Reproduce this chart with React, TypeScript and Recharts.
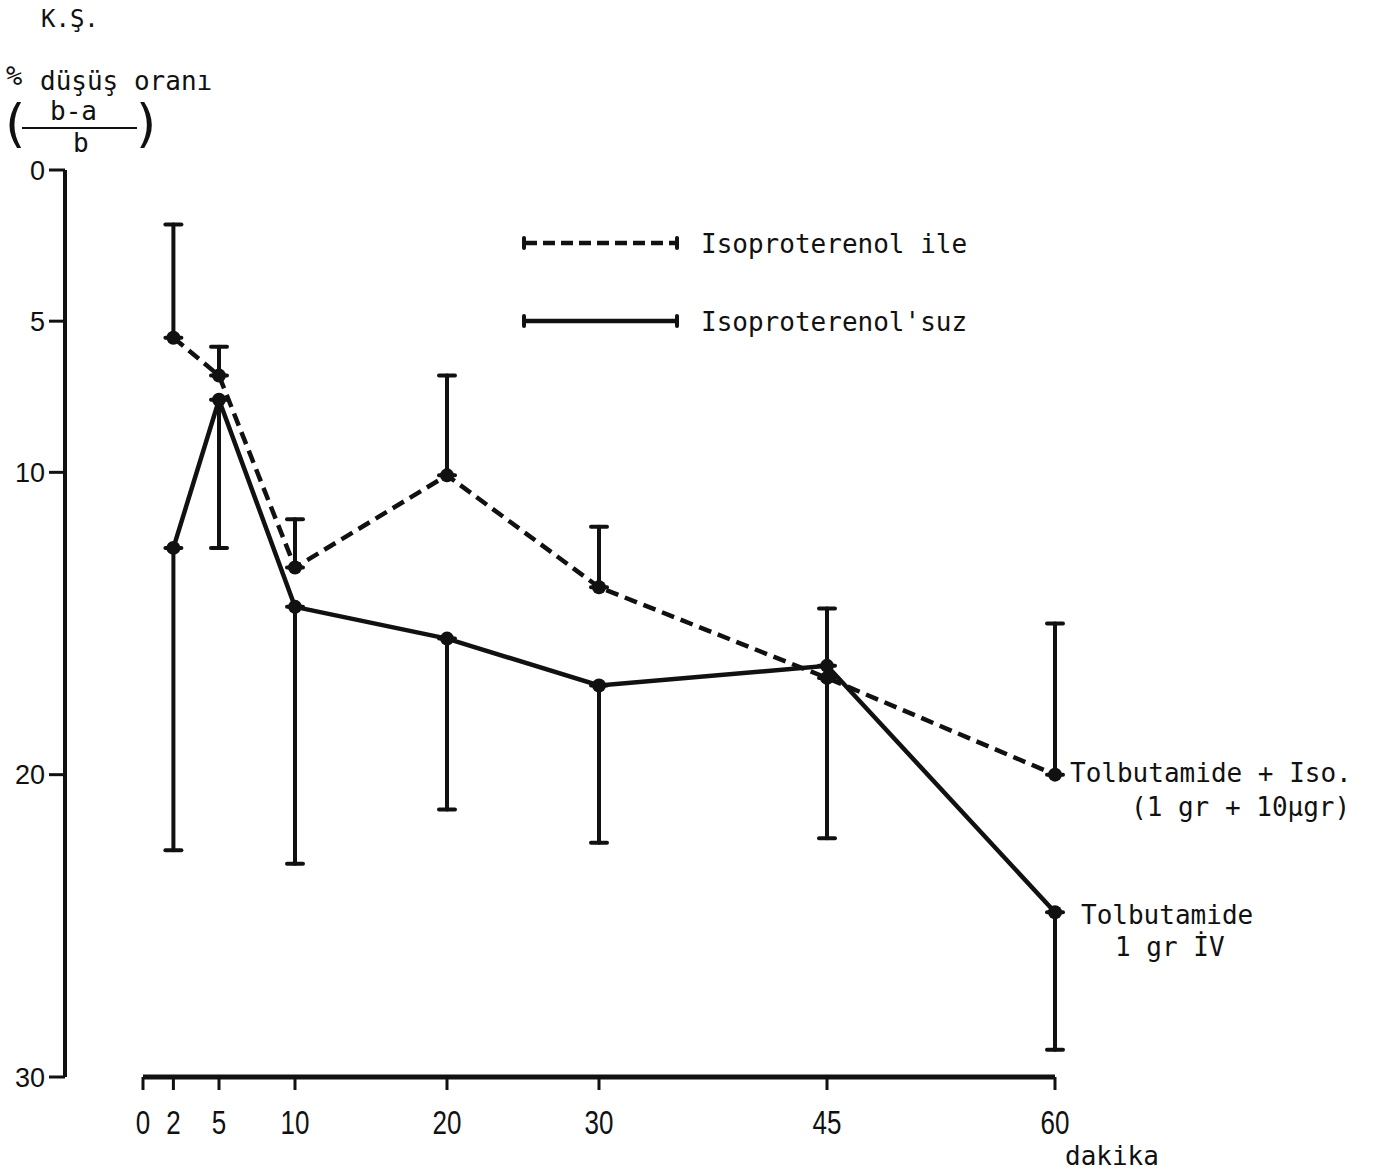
import React from "react";
import { ComposedChart, Line, XAxis, YAxis, ErrorBar, ReferenceLine } from "recharts";

const INK = "#111";
const MONO = "'DejaVu Sans Mono', 'Liberation Mono', monospace";
const SANS = "'Liberation Sans', Arial, sans-serif";

const MINUTES = [2, 5, 10, 20, 30, 45, 60];
const X_TICKS = [0, 2, 5, 10, 20, 30, 45, 60];
const Y_TICKS = [0, 5, 10, 20, 30];

// Isoproterenol ile (kesikli) - hata çubuğu yukarı
const ILE_MEAN = [5.55, 6.8, 13.15, 10.1, 13.8, 16.8, 20.0];
const ILE_ERR = [3.75, 0.95, 1.6, 3.3, 2.0, 2.3, 5.0];
// Isoproterenol'suz (düz) - hata çubuğu aşağı
const SUZ_MEAN = [12.5, 7.6, 14.45, 15.5, 17.05, 16.4, 24.55];
const SUZ_ERR = [10.0, 4.9, 8.5, 5.65, 5.2, 5.7, 4.55];

const LEGEND = [
  { label: "Isoproterenol ile", dash: "12 6" },
  { label: "Isoproterenol'suz", dash: undefined as string | undefined },
];

// one-sided error bars: an invisible series sits at the middle of each bar
const rows = MINUTES.map((m, i) => ({
  m,
  ile: ILE_MEAN[i],
  suz: SUZ_MEAN[i],
  ileMid: ILE_MEAN[i] - ILE_ERR[i] / 2,
  ileHalf: ILE_ERR[i] / 2,
  suzMid: SUZ_MEAN[i] + SUZ_ERR[i] / 2,
  suzHalf: SUZ_ERR[i] / 2,
}));

function Txt({ x, y, size = 26, font = MONO, children }: { x: number; y: number; size?: number; font?: string; children: React.ReactNode }) {
  return (
    <div
      style={{
        position: "absolute",
        left: x,
        top: y,
        fontSize: size,
        lineHeight: `${size}px`,
        fontFamily: font,
        color: INK,
        whiteSpace: "pre",
      }}
    >
      {children}
    </div>
  );
}

function XTick(props: any) {
  const { x, y, payload } = props;
  return (
    <g transform={`translate(${x},${y})`}>
      <text textAnchor="middle" dy="0.71em" transform="scale(1,1.3)" fontSize={26} fontFamily={SANS} fill={INK}>
        {payload.value}
      </text>
    </g>
  );
}

function Dot(props: any) {
  const { cx, cy } = props;
  if (cx == null || cy == null) return null;
  return <circle cx={cx} cy={cy} r={7} fill={INK} />;
}

export default function App() {
  return (
    <div style={{ position: "absolute", left: 0, top: 0, width: 1375, height: 1176, background: "#fff" }}>
      <ComposedChart width={1375} height={1176} data={rows} margin={{ top: 170, right: 320, bottom: 39, left: 0 }}>
        <XAxis
          dataKey="m"
          type="number"
          domain={[0, 60]}
          ticks={X_TICKS}
          interval={0}
          padding={{ left: 78, right: 0 }}
          axisLine={false}
          tickLine={{ stroke: INK, strokeWidth: 3 }}
          tickSize={13}
          tickMargin={20}
          height={60}
          tick={(p: any) => <XTick {...p} />}
        />
        <YAxis
          type="number"
          domain={[0, 30]}
          reversed
          ticks={Y_TICKS}
          interval={0}
          width={65}
          axisLine={{ stroke: INK, strokeWidth: 4 }}
          tickLine={{ stroke: INK, strokeWidth: 3 }}
          tickSize={16}
          tickMargin={4}
          tick={{ fill: INK, fontSize: 27, fontFamily: SANS }}
        />
        <ReferenceLine
          segment={[{ x: 0, y: 30 }, { x: 60, y: 30 }]}
          stroke={INK}
          strokeWidth={5}
          ifOverflow="visible"
        />
        <Line dataKey="ileMid" stroke="none" dot={false} activeDot={false} legendType="none" isAnimationActive={false}>
          <ErrorBar dataKey="ileHalf" direction="y" width={8} stroke={INK} strokeWidth={4} strokeLinecap="round" isAnimationActive={false} />
        </Line>
        <Line dataKey="suzMid" stroke="none" dot={false} activeDot={false} legendType="none" isAnimationActive={false}>
          <ErrorBar dataKey="suzHalf" direction="y" width={8} stroke={INK} strokeWidth={4} strokeLinecap="round" isAnimationActive={false} />
        </Line>
        <Line
          type="linear"
          dataKey="ile"
          stroke={INK}
          strokeWidth={4.5}
          strokeDasharray="13 7"
          dot={(p: any) => <Dot key={`i${p.index}`} {...p} />}
          activeDot={false}
          isAnimationActive={false}
        />
        <Line
          type="linear"
          dataKey="suz"
          stroke={INK}
          strokeWidth={4.5}
          dot={(p: any) => <Dot key={`s${p.index}`} {...p} />}
          activeDot={false}
          isAnimationActive={false}
        />
      </ComposedChart>

      {/* legend */}
      {LEGEND.map((l, i) => {
        const cy = 243 + i * 78;
        return (
          <React.Fragment key={l.label}>
            <svg style={{ position: "absolute", left: 515, top: cy - 10 }} width={170} height={20}>
              <line x1={10} x2={161} y1={10} y2={10} stroke={INK} strokeWidth={4.5} strokeDasharray={l.dash} />
              <line x1={9} x2={9} y1={5} y2={15} stroke={INK} strokeWidth={4} strokeLinecap="round" />
              <line x1={162} x2={162} y1={5} y2={15} stroke={INK} strokeWidth={4} strokeLinecap="round" />
            </svg>
            <Txt x={701} y={cy - 12}>{l.label}</Txt>
          </React.Fragment>
        );
      })}

      {/* y axis title */}
      <Txt x={41} y={7} size={24}>K.Ş.</Txt>
      <Txt x={6} y={62} size={27}>%</Txt>
      <Txt x={40} y={68}>düşüş oranı</Txt>
      <Txt x={5} y={97} size={52} font="'DejaVu Sans', sans-serif">(</Txt>
      <Txt x={50} y={98}>b-a</Txt>
      <div style={{ position: "absolute", left: 22, top: 127, width: 115, height: 2, background: INK }} />
      <Txt x={73} y={130}>b</Txt>
      <Txt x={136} y={97} size={52} font="'DejaVu Sans', sans-serif">)</Txt>

      {/* annotations */}
      <Txt x={1070} y={760}>Tolbutamide + Iso.</Txt>
      <Txt x={1131} y={794}>(1 gr + 10µgr)</Txt>
      <Txt x={1081} y={902}>Tolbutamide</Txt>
      <Txt x={1115} y={934}>1 gr İV</Txt>
      <Txt x={1065} y={1143}>dakika</Txt>
    </div>
  );
}
